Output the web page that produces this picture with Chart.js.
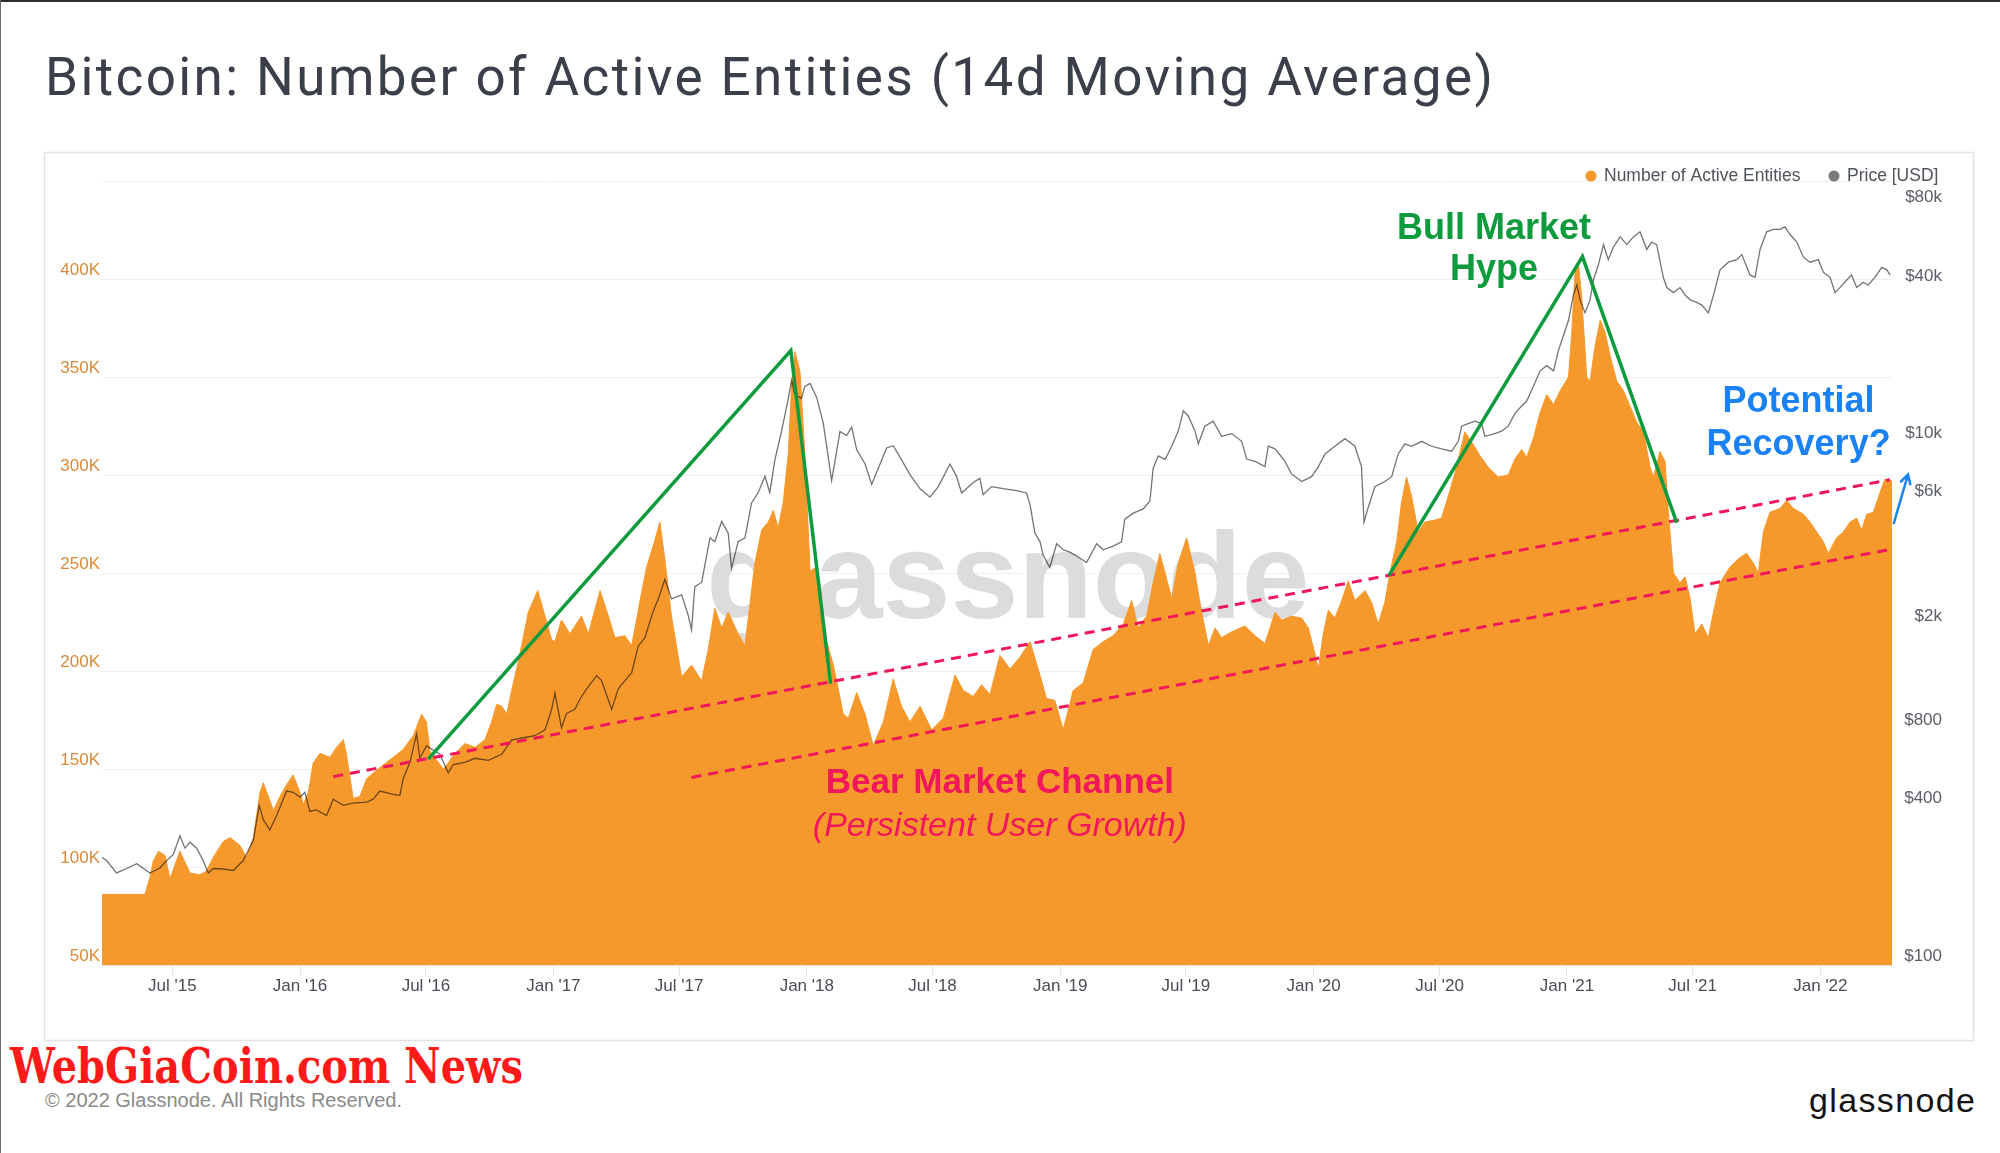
<!DOCTYPE html>
<html lang="en">
<head>
<meta charset="utf-8">
<title>Bitcoin: Number of Active Entities (14d Moving Average)</title>
<script src="https://cdn.jsdelivr.net/npm/chart.js@4.4.1/dist/chart.umd.min.js"></script>
<style>
  html, body { margin: 0; padding: 0; background: #fff; }
  body { position: relative; width: 2000px; height: 1153px; overflow: hidden; }
  #page, #chart { position: absolute; left: 0; top: 0; }
</style>
</head>
<body>
<svg id="page" width="2000" height="1153" xmlns="http://www.w3.org/2000/svg">
  <rect x="0" y="0" width="2000" height="2" fill="#2e2e2e"/>
  <rect x="0" y="0" width="1" height="1153" fill="#6a6a6a"/>
  <text x="45" y="95" font-family="Roboto, 'Liberation Sans', sans-serif" font-size="53" fill="#3b3f4a" textLength="1448" lengthAdjust="spacing">Bitcoin: Number of Active Entities (14d Moving Average)</text>
  <rect x="44.5" y="152.5" width="1929" height="888" fill="#fff" stroke="#e2e2e2" stroke-width="1.5"/>
  <text x="10" y="1083" font-family="'DejaVu Serif', serif" font-weight="bold" font-size="49" fill="#ff1a1a" textLength="513" lengthAdjust="spacingAndGlyphs">WebGiaCoin.com News</text>
  <text x="45" y="1107" font-family="'Liberation Sans', Arial, sans-serif" font-size="20" fill="#8a8a8a" textLength="357" lengthAdjust="spacing">© 2022 Glassnode. All Rights Reserved.</text>
  <text x="1809" y="1112" font-family="'Liberation Sans', Arial, sans-serif" font-size="34" fill="#141414" textLength="166" lengthAdjust="spacing">glassnode</text>
</svg>
<canvas id="chart" width="2000" height="1153"></canvas>
<script>
const FONT = "'Liberation Sans', Arial, sans-serif";
const ORANGE = '#f6992d';
const GREEN = '#0d9b3e';
const PINK = '#f0175a';
const BLUE = '#1a82f5';

// ---- Number of active entities (thousands), x in decimal years ----
const entityYears = [
  2015.211, 2015.388, 2015.408, 2015.421, 2015.441, 2015.467, 2015.487, 2015.526, 2015.566, 2015.605,
  2015.631, 2015.658, 2015.697, 2015.724, 2015.763, 2015.789, 2015.816, 2015.842, 2015.855, 2015.881,
  2015.895, 2015.921, 2015.947, 2015.973, 2016.000, 2016.013, 2016.033, 2016.052, 2016.079, 2016.118,
  2016.144, 2016.171, 2016.184, 2016.210, 2016.236, 2016.263, 2016.289, 2016.328, 2016.368, 2016.407,
  2016.447, 2016.480, 2016.499, 2016.513, 2016.526, 2016.565, 2016.585, 2016.605, 2016.651, 2016.691,
  2016.730, 2016.756, 2016.776, 2016.796, 2016.816, 2016.835, 2016.862, 2016.901, 2016.938, 2016.967,
  2016.993, 2017.006, 2017.032, 2017.065, 2017.111, 2017.138, 2017.184, 2017.217, 2017.243, 2017.282,
  2017.309, 2017.348, 2017.368, 2017.401, 2017.420, 2017.440, 2017.466, 2017.506, 2017.545, 2017.585,
  2017.611, 2017.637, 2017.664, 2017.690, 2017.729, 2017.756, 2017.795, 2017.822, 2017.848, 2017.868,
  2017.887, 2017.907, 2017.927, 2017.940, 2017.953, 2017.973, 2017.992, 2018.013, 2018.039, 2018.078,
  2018.105, 2018.144, 2018.164, 2018.197, 2018.230, 2018.262, 2018.302, 2018.341, 2018.374, 2018.407,
  2018.447, 2018.493, 2018.539, 2018.585, 2018.618, 2018.657, 2018.690, 2018.723, 2018.762, 2018.802,
  2018.841, 2018.881, 2018.920, 2018.946, 2018.979, 2019.012, 2019.051, 2019.091, 2019.130, 2019.170,
  2019.209, 2019.249, 2019.282, 2019.308, 2019.341, 2019.367, 2019.393, 2019.414, 2019.440, 2019.466,
  2019.499, 2019.532, 2019.558, 2019.585, 2019.611, 2019.637, 2019.677, 2019.729, 2019.769, 2019.808,
  2019.848, 2019.874, 2019.913, 2019.953, 2019.979, 2020.005, 2020.019, 2020.038, 2020.058, 2020.084,
  2020.111, 2020.137, 2020.163, 2020.203, 2020.229, 2020.255, 2020.281, 2020.301, 2020.328, 2020.347,
  2020.367, 2020.387, 2020.413, 2020.439, 2020.479, 2020.505, 2020.531, 2020.558, 2020.597, 2020.623,
  2020.656, 2020.689, 2020.729, 2020.768, 2020.794, 2020.821, 2020.841, 2020.868, 2020.894, 2020.920,
  2020.947, 2020.973, 2021.006, 2021.019, 2021.032, 2021.045, 2021.058, 2021.078, 2021.091, 2021.111,
  2021.131, 2021.150, 2021.170, 2021.196, 2021.223, 2021.249, 2021.275, 2021.302, 2021.328, 2021.341,
  2021.367, 2021.387, 2021.400, 2021.420, 2021.446, 2021.466, 2021.486, 2021.505, 2021.532, 2021.558,
  2021.578, 2021.604, 2021.643, 2021.683, 2021.709, 2021.736, 2021.755, 2021.775, 2021.801, 2021.841,
  2021.867, 2021.893, 2021.933, 2021.959, 2021.985, 2022.012, 2022.031, 2022.064, 2022.091, 2022.117,
  2022.143, 2022.163, 2022.183, 2022.209, 2022.235, 2022.255, 2022.275, 2022.283
];
const entityValuesK = [
  86, 86, 95, 103, 108, 106, 94, 108, 97, 96,
  98, 105, 113, 115, 111, 105, 115, 138, 143, 134,
  129, 136, 142, 147, 138, 132, 138, 153, 158, 156,
  161, 165, 157, 135, 136, 145, 148, 152, 156, 160,
  167, 178, 174, 159, 157, 150, 153, 157, 163, 161,
  165, 174, 183, 182, 178, 190, 205, 230, 241, 228,
  216, 215, 226, 219, 228, 219, 241, 228, 217, 218,
  213, 240, 253, 267, 276, 257, 228, 197, 203, 195,
  211, 232, 222, 230, 219, 213, 255, 272, 276, 282,
  273, 286, 311, 346, 363, 353, 311, 251, 253, 215,
  203, 178, 176, 189, 178, 162, 174, 196, 182, 174,
  182, 170, 176, 198, 190, 187, 193, 188, 208, 201,
  207, 215, 198, 186, 185, 170, 190, 194, 211, 215,
  218, 224, 236, 222, 228, 245, 260, 250, 237, 255,
  268, 250, 230, 213, 222, 217, 220, 223, 218, 214,
  230, 226, 228, 227, 222, 209, 201, 219, 231, 227,
  236, 246, 236, 241, 235, 224, 235, 250, 266, 286,
  299, 289, 271, 276, 277, 278, 289, 301, 322, 317,
  310, 304, 299, 300, 308, 313, 309, 319, 332, 341,
  336, 343, 350, 373, 404, 408, 391, 350, 348, 366,
  379, 373, 361, 348, 343, 335, 327, 322, 304, 299,
  312, 307, 281, 250, 245, 248, 237, 219, 224, 217,
  230, 245, 253, 258, 260, 255, 250, 271, 281, 283,
  287, 283, 280, 276, 271, 266, 260, 268, 271, 276,
  278, 272, 280, 281, 291, 298, 297, 297
];

// ---- Price [USD] ----
const priceYears = [
  2015.211, 2015.237, 2015.276, 2015.316, 2015.355, 2015.408, 2015.447, 2015.474, 2015.500, 2015.526,
  2015.546, 2015.566, 2015.592, 2015.618, 2015.638, 2015.658, 2015.697, 2015.737, 2015.776, 2015.816,
  2015.839, 2015.855, 2015.881, 2015.908, 2015.947, 2015.973, 2016.000, 2016.019, 2016.039, 2016.065,
  2016.105, 2016.131, 2016.171, 2016.210, 2016.263, 2016.289, 2016.315, 2016.368, 2016.394, 2016.407,
  2016.434, 2016.460, 2016.473, 2016.499, 2016.526, 2016.552, 2016.585, 2016.605, 2016.651, 2016.691,
  2016.743, 2016.796, 2016.835, 2016.875, 2016.927, 2016.967, 2016.993, 2017.006, 2017.032, 2017.052,
  2017.085, 2017.105, 2017.131, 2017.171, 2017.190, 2017.210, 2017.230, 2017.256, 2017.282, 2017.309,
  2017.335, 2017.361, 2017.394, 2017.414, 2017.440, 2017.466, 2017.506, 2017.532, 2017.545, 2017.558,
  2017.585, 2017.618, 2017.637, 2017.664, 2017.690, 2017.703, 2017.729, 2017.756, 2017.782, 2017.808,
  2017.835, 2017.854, 2017.874, 2017.900, 2017.927, 2017.940, 2017.953, 2017.979, 2017.992, 2018.013,
  2018.039, 2018.065, 2018.098, 2018.131, 2018.157, 2018.177, 2018.197, 2018.230, 2018.256, 2018.289,
  2018.315, 2018.341, 2018.374, 2018.407, 2018.447, 2018.486, 2018.519, 2018.565, 2018.591, 2018.611,
  2018.657, 2018.683, 2018.696, 2018.729, 2018.775, 2018.828, 2018.867, 2018.881, 2018.900, 2018.920,
  2018.933, 2018.959, 2018.986, 2019.012, 2019.038, 2019.065, 2019.104, 2019.144, 2019.170, 2019.209,
  2019.242, 2019.255, 2019.288, 2019.328, 2019.354, 2019.367, 2019.387, 2019.414, 2019.440, 2019.466,
  2019.486, 2019.506, 2019.532, 2019.545, 2019.571, 2019.604, 2019.637, 2019.677, 2019.716, 2019.736,
  2019.769, 2019.808, 2019.821, 2019.848, 2019.887, 2019.913, 2019.953, 2019.992, 2020.019, 2020.045,
  2020.084, 2020.124, 2020.163, 2020.189, 2020.199, 2020.216, 2020.242, 2020.281, 2020.308, 2020.334,
  2020.360, 2020.387, 2020.426, 2020.466, 2020.505, 2020.545, 2020.571, 2020.584, 2020.610, 2020.637,
  2020.663, 2020.676, 2020.715, 2020.742, 2020.768, 2020.794, 2020.821, 2020.841, 2020.868, 2020.894,
  2020.920, 2020.947, 2020.966, 2020.986, 2021.006, 2021.025, 2021.039, 2021.052, 2021.071, 2021.091,
  2021.104, 2021.124, 2021.144, 2021.163, 2021.183, 2021.210, 2021.236, 2021.262, 2021.288, 2021.315,
  2021.334, 2021.354, 2021.380, 2021.394, 2021.420, 2021.446, 2021.466, 2021.486, 2021.512, 2021.532,
  2021.558, 2021.578, 2021.604, 2021.637, 2021.670, 2021.690, 2021.722, 2021.742, 2021.762, 2021.788,
  2021.814, 2021.841, 2021.860, 2021.880, 2021.907, 2021.933, 2021.959, 2021.992, 2022.012, 2022.038,
  2022.058, 2022.077, 2022.104, 2022.123, 2022.143, 2022.169, 2022.189, 2022.215, 2022.242, 2022.262,
  2022.275
];
const priceUsd = [
  261, 251, 225, 234, 244, 225, 235, 251, 265, 312,
  280, 295, 280, 251, 225, 234, 233, 230, 251, 301,
  408, 360, 329, 373, 463, 458, 439, 458, 387, 392,
  373, 431, 408, 416, 420, 431, 463, 450, 446, 516,
  596, 767, 618, 689, 664, 640, 544, 585, 596, 618,
  607, 640, 726, 739, 754, 795, 951, 1098, 809, 918,
  951, 1042, 1139, 1280, 1225, 1080, 950, 1139, 1225, 1315,
  1663, 1787, 2259, 2518, 2994, 2518, 2610, 2178, 1917, 2805,
  2910, 4310, 4170, 4985, 4477, 3296, 4170, 4310, 5860, 6415,
  7420, 6415, 8570, 11000, 14700, 17270, 15230, 14700, 16380, 16800,
  14860, 11840, 7140, 11000, 10620, 11430, 9370, 8260, 6900, 8260,
  9520, 9710, 8570, 7530, 6640, 6170, 6770, 8260, 7410, 6400,
  7020, 7280, 6300, 6770, 6650, 6540, 6400, 5780, 4500, 4170,
  3700, 3320, 4090, 3880, 3800, 3675, 3470, 4090, 3880, 4010,
  4160, 5080, 5360, 5560, 5970, 7960, 8870, 8600, 9660, 11040,
  13190, 12590, 11040, 9870, 11530, 12060, 10550, 10800, 10090, 8630,
  8450, 8075, 9660, 9440, 8450, 7570, 7080, 7390, 8075, 9030,
  9660, 10330, 9660, 8075, 4950, 5660, 6760, 7080, 7390, 9030,
  9870, 9660, 10090, 9660, 9440, 9250, 10090, 11530, 11800, 12060,
  11800, 10550, 10800, 11040, 11530, 12880, 13770, 14390, 16440, 18780,
  19650, 18780, 22440, 25630, 29300, 36600, 40000, 35000, 31300, 35000,
  41800, 47800, 57100, 50000, 55900, 61100, 57100, 61100, 63900, 54700,
  58400, 57100, 42800, 39100, 37400, 39100, 36600, 35100, 34300, 33500,
  31300, 36600, 45700, 48900, 50000, 52300, 43700, 42800, 54700, 63900,
  65300, 65300, 66700, 62400, 58400, 51100, 48900, 50000, 44700, 42800,
  37400, 39100, 41800, 43700, 39100, 40900, 40000, 42800, 46700, 45700,
  43700
];

// ---- Axis ticks ----
const xTickYears = [2015.496, 2016, 2016.497, 2017, 2017.496, 2018, 2018.496,
                    2019, 2019.496, 2020, 2020.497, 2021, 2021.496, 2022];
const xTickLabels = ["Jul '15", "Jan '16", "Jul '16", "Jan '17", "Jul '17", "Jan '18", "Jul '18",
                     "Jan '19", "Jul '19", "Jan '20", "Jul '20", "Jan '21", "Jul '21", "Jan '22"];
const entityTicksK = [50, 100, 150, 200, 250, 300, 350, 400, 450];
const priceTicks = [100, 400, 800, 2000, 6000, 10000, 40000, 80000];
const priceTickLabels = ['$100', '$400', '$800', '$2k', '$6k', '$10k', '$40k', '$80k'];

// ---- Annotations, in data coordinates [year, thousands of entities] ----
const hype2017 = [[2016.506, 155], [2017.937, 363.5], [2018.094, 193.5]];
const hype2021 = [[2020.297, 248.7], [2021.061, 411.4], [2021.433, 275.7]];
const channelTop = [[2016.131, 146.1], [2022.275, 297.6]];
const channelBottom = [[2017.545, 145.7], [2022.275, 262]];
const recoveryArrow = [[2022.29, 275.5], [2022.346, 300.3]];
const notes = [
  { text: 'Bull Market', x: 2020.712, y: 420.4, color: GREEN, font: `bold 36px ${FONT}` },
  { text: 'Hype', x: 2020.712, y: 399.5, color: GREEN, font: `bold 36px ${FONT}` },
  { text: 'Potential', x: 2021.914, y: 332.3, color: BLUE, font: `bold 36px ${FONT}` },
  { text: 'Recovery?', x: 2021.914, y: 310.4, color: BLUE, font: `bold 36px ${FONT}` },
  { text: 'Bear Market Channel', x: 2018.762, y: 137.8, color: PINK, font: `bold 35px ${FONT}` },
  { text: '(Persistent User Growth)', x: 2018.762, y: 115.8, color: PINK, font: `italic 34px ${FONT}` }
];
const watermark = { text: 'glassnode', x: 2018.794, y: 227 };

function toPx(chart, p) {
  return [chart.scales.x.getPixelForValue(p[0]), chart.scales.y.getPixelForValue(p[1])];
}

function polyline(chart, points, color, width, dash) {
  const ctx = chart.ctx;
  ctx.save();
  ctx.strokeStyle = color;
  ctx.lineWidth = width;
  ctx.lineJoin = 'miter';
  ctx.setLineDash(dash);
  ctx.beginPath();
  points.forEach((p, i) => {
    const [px, py] = toPx(chart, p);
    if (i === 0) ctx.moveTo(px, py); else ctx.lineTo(px, py);
  });
  ctx.stroke();
  ctx.restore();
}

const overlayPlugin = {
  id: 'overlay',
  beforeDatasetsDraw(chart) {
    const ctx = chart.ctx;
    const [wx, wy] = toPx(chart, [watermark.x, watermark.y]);
    ctx.save();
    ctx.font = `bold 122px ${FONT}`;
    ctx.fillStyle = '#dcdcdc';
    ctx.textAlign = 'center';
    ctx.textBaseline = 'alphabetic';
    ctx.fillText(watermark.text, wx, wy);
    ctx.restore();
  },
  afterDatasetsDraw(chart) {
    const ctx = chart.ctx;

    polyline(chart, channelTop, PINK, 3, [10, 7]);
    polyline(chart, channelBottom, PINK, 3, [10, 7]);
    polyline(chart, hype2017, GREEN, 3.5, []);
    polyline(chart, hype2021, GREEN, 3.5, []);

    // recovery arrow
    const [ax0, ay0] = toPx(chart, recoveryArrow[0]);
    const [ax1, ay1] = toPx(chart, recoveryArrow[1]);
    const ang = Math.atan2(ay1 - ay0, ax1 - ax0);
    ctx.save();
    ctx.strokeStyle = BLUE;
    ctx.lineWidth = 2.5;
    ctx.lineCap = 'round';
    ctx.beginPath();
    ctx.moveTo(ax0, ay0);
    ctx.lineTo(ax1, ay1);
    ctx.moveTo(ax1 - 10 * Math.cos(ang - 0.5), ay1 - 10 * Math.sin(ang - 0.5));
    ctx.lineTo(ax1, ay1);
    ctx.lineTo(ax1 - 10 * Math.cos(ang + 0.5), ay1 - 10 * Math.sin(ang + 0.5));
    ctx.stroke();
    ctx.restore();

    // text notes
    notes.forEach(n => {
      const [nx, ny] = toPx(chart, [n.x, n.y]);
      ctx.save();
      ctx.font = n.font;
      ctx.fillStyle = n.color;
      ctx.textAlign = 'center';
      ctx.textBaseline = 'alphabetic';
      ctx.fillText(n.text, nx, ny);
      ctx.restore();
    });

    // legend, top right
    const ds = chart.data.datasets;
    const items = [
      { label: ds[1].label, color: ORANGE, x: 1591 },
      { label: ds[0].label, color: '#7a7a7a', x: 1834 }
    ];
    ctx.save();
    ctx.font = `17.5px ${FONT}`;
    ctx.textBaseline = 'middle';
    ctx.textAlign = 'left';
    items.forEach(it => {
      ctx.fillStyle = it.color;
      ctx.beginPath();
      ctx.arc(it.x, 176, 5.5, 0, Math.PI * 2);
      ctx.fill();
      ctx.fillStyle = '#4f535b';
      ctx.fillText(it.label, it.x + 13, 176);
    });
    ctx.restore();
  }
};

new Chart(document.getElementById('chart'), {
  type: 'line',
  data: {
    datasets: [
      {
        label: 'Price [USD]',
        data: priceYears.map((x, i) => ({ x, y: priceUsd[i] })),
        yAxisID: 'price',
        borderColor: 'rgba(0, 0, 0, 0.55)',
        borderWidth: 1.3,
        pointRadius: 0,
        fill: false,
        order: 0
      },
      {
        label: 'Number of Active Entities',
        data: entityYears.map((x, i) => ({ x, y: entityValuesK[i] })),
        yAxisID: 'y',
        borderColor: ORANGE,
        backgroundColor: ORANGE,
        borderWidth: 1,
        pointRadius: 0,
        fill: 'start',
        order: 1
      }
    ]
  },
  options: {
    responsive: false,
    animation: false,
    events: [],
    layout: { padding: { top: 181, left: 0, right: 58, bottom: 0 } },
    plugins: { legend: { display: false }, tooltip: { enabled: false } },
    scales: {
      x: {
        type: 'linear',
        min: 2015.2186,
        max: 2022.2826,
        afterBuildTicks: s => { s.ticks = xTickYears.map(v => ({ value: v })); },
        afterFit: s => { s.height = 188; },
        grid: { drawOnChartArea: false, drawTicks: true, tickLength: 10, color: '#e4e4e4' },
        border: { display: true, color: '#e4e4e4' },
        ticks: {
          autoSkip: false, maxRotation: 0, padding: 1, color: '#4a4d55',
          font: { family: FONT, size: 17 },
          callback: (v, i) => xTickLabels[i]
        }
      },
      y: {
        position: 'left',
        min: 50,
        max: 450,
        afterBuildTicks: s => { s.ticks = entityTicksK.map(v => ({ value: v })); },
        afterFit: s => { s.width = 102; },
        grid: { color: '#efefef', drawTicks: false },
        border: { display: false },
        ticks: {
          padding: 2, labelOffset: -9, color: '#dc8a37',
          font: { family: FONT, size: 17 },
          callback: v => (v === 450 ? '' : v + 'K')
        }
      },
      price: {
        type: 'logarithmic',
        position: 'right',
        min: 100,
        max: 100000,
        afterBuildTicks: s => { s.ticks = priceTicks.map(v => ({ value: v })); },
        afterFit: s => { s.width = 50; },
        grid: { display: false, drawTicks: false },
        border: { display: false },
        ticks: {
          crossAlign: 'far', padding: 10, labelOffset: -9, color: '#5a5e66',
          autoSkip: false,
          font: { family: FONT, size: 17 },
          callback: (v, i) => priceTickLabels[i]
        }
      }
    }
  },
  plugins: [overlayPlugin]
});
</script>
</body>
</html>
